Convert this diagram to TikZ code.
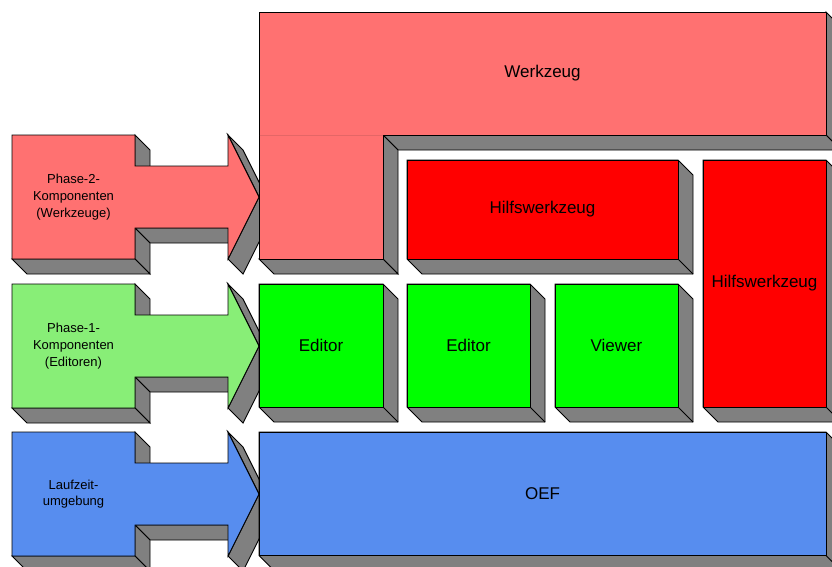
\documentclass[tikz,border=0pt]{standalone}
\usepackage{fontspec}
\setmainfont{Liberation Sans}
\definecolor{salmon}{HTML}{FF7171}
\definecolor{hred}{HTML}{FF0000}
\definecolor{hgreen}{HTML}{00FF00}
\definecolor{lgreen}{HTML}{88EE77}
\definecolor{oblue}{HTML}{578DEF}
\definecolor{side}{HTML}{808080}
\definecolor{seam}{HTML}{E46666}
\tikzset{
  face/.style={fill=side, draw=black, line width=0.9pt, line join=miter},
  edgeline/.style={draw=black, line width=0.9pt},
  front/.style={draw=black, line width=0.9pt, line join=miter},
  biglabel/.style={font=\fontsize{17}{20}\selectfont, inner sep=0pt},
  smalllabel/.style={font=\fontsize{13}{16.7}\selectfont, align=center, inner sep=0pt},
}
% x1 y1 x2 y2 colour name text
\newcommand{\tdbox}[7]{%
  \path[face] (#1,#2) -- (#3,#2) -- (#3+15,#2+15) -- (#3+15,#4+15) -- (#1+15,#4+15) -- (#1,#4) -- cycle;
  \path[edgeline] (#3,#4) -- (#3+15,#4+15);
  \path[front, fill=#5] (#1,#2) rectangle (#3,#4);
  \node[biglabel] (#6) at ({(#1+#3)/2},{(#2+#4)/2}) {#7};
}
% y0 colour name text
\newcommand{\phasearrow}[4]{%
  \begin{scope}[shift={(0,#1)}]
    \path[face] (228,93) -- (135,93) -- (150,108) -- (243,108) -- cycle;
    \path[face] (135,93) -- (150,108) -- (150,139) -- (135,124) -- cycle;
    \path[face] (135,124) -- (12,124) -- (27,139) -- (150,139) -- cycle;
    \path[face] (135,0) -- (150,15) -- (150,46) -- (135,31) -- cycle;
    \path[face] (228,0) -- (243,15) -- (274,77) -- (259,62) -- cycle;
    \path[face] (259,62) -- (274,77) -- (243,139) -- (228,124) -- cycle;
    \path[front, fill=#2] (12,0) -- (135,0) -- (135,31) -- (228,31) -- (228,0) -- (259,62)
      -- (228,124) -- (228,93) -- (135,93) -- (135,124) -- (12,124) -- cycle;
    \node[smalllabel] (#3) at (73.5,62) {#4};
  \end{scope}
}
\begin{document}
\begin{tikzpicture}[x=1pt, y=-1pt]
  \useasboundingbox (0,0) rectangle (832,566);
  \clip (0,0) rectangle (832,566);
  \fill[white] (0,0) rectangle (832,566);

  % left arrows
  \phasearrow{135}{salmon}{p2}{Phase-2-\\Komponenten\\(Werkzeuge)}
  \phasearrow{284}{lgreen}{p1}{Phase-1-\\Komponenten\\(Editoren)}
  \phasearrow{432}{oblue}{rt}{Laufzeit-\\umgebung}

  % Werkzeug (L-shape)
  \path[face] (826,12) -- (841,27) -- (841,150) -- (826,135) -- cycle;
  \path[face] (826,135) -- (841,150) -- (398,150) -- (383,135) -- cycle;
  \path[face] (383,135) -- (398,150) -- (398,274) -- (383,259) -- cycle;
  \path[face] (383,259) -- (398,274) -- (274,274) -- (259,259) -- cycle;
  \path[front, fill=salmon] (259,12) -- (826,12) -- (826,135) -- (383,135) -- (383,259)
    -- (259,259) -- cycle;
  \draw[seam, line width=0.8pt] (259.5,135) -- (382.5,135);
  \node[biglabel] (wz) at (542.5,73.5) {Werkzeug};

  % Hilfswerkzeuge
  \tdbox{407}{160}{678}{259}{hred}{hw1}{Hilfswerkzeug}
  \tdbox{703}{160}{826}{407}{hred}{hw2}{Hilfswerkzeug}

  % Editors / Viewer
  \tdbox{259}{284}{383}{407}{hgreen}{ed1}{Editor}
  \tdbox{407}{284}{530}{407}{hgreen}{ed2}{Editor}
  \tdbox{555}{284}{678}{407}{hgreen}{vw}{Viewer}

  % OEF
  \tdbox{259}{432}{826}{555.5}{oblue}{oef}{OEF}
\end{tikzpicture}
\end{document}
